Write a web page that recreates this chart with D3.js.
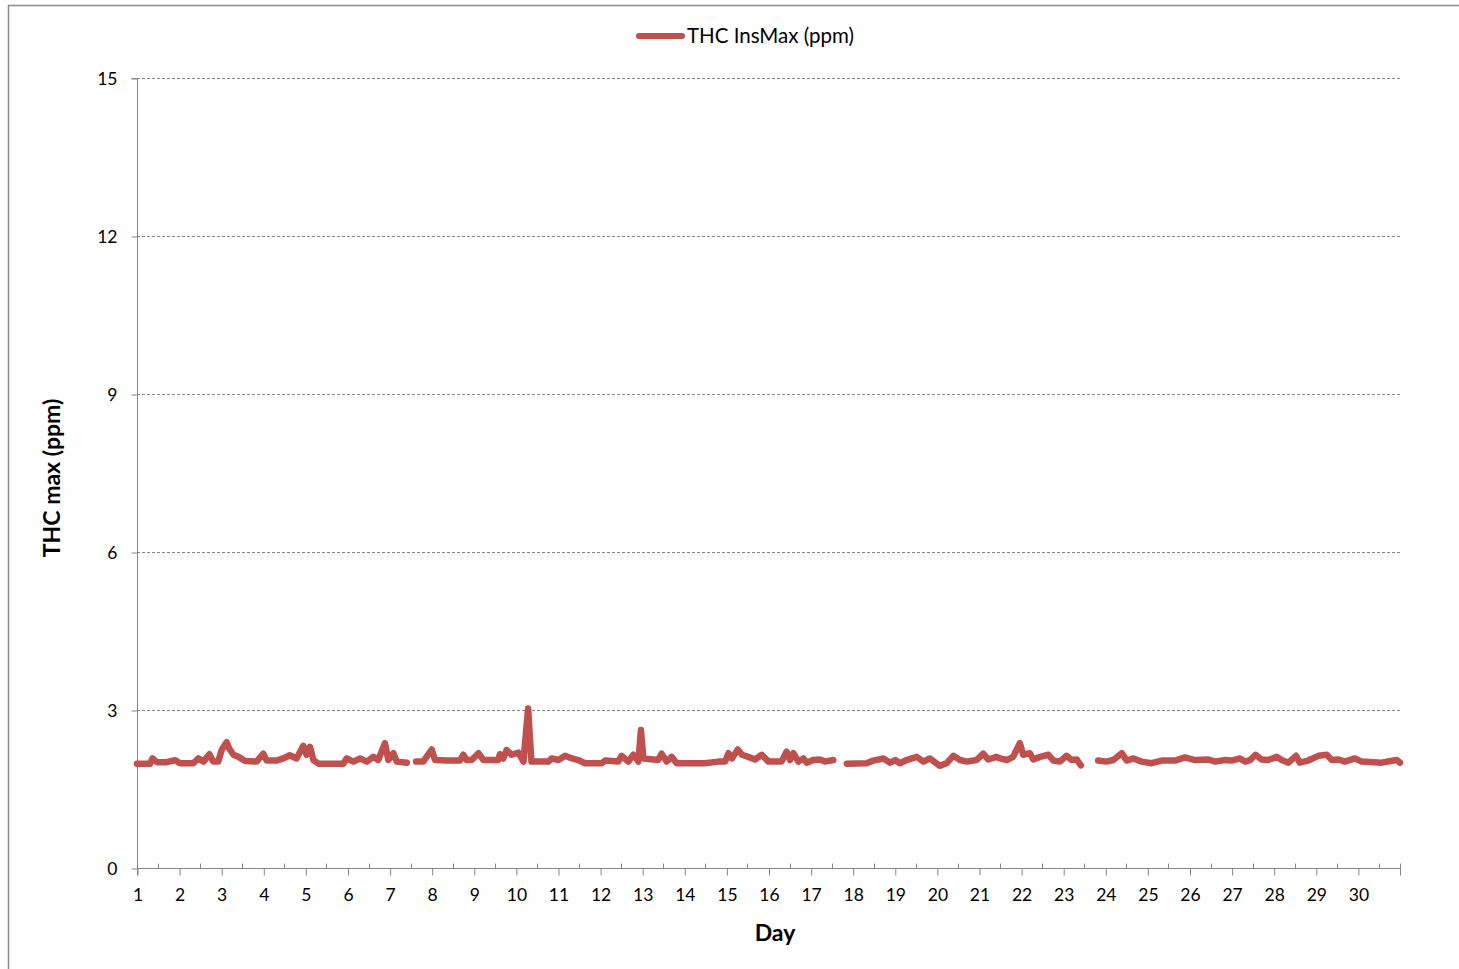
<!DOCTYPE html>
<html>
<head>
<meta charset="utf-8">
<script src="https://cdn.jsdelivr.net/npm/d3@7"></script>
<style>
  html, body { margin: 0; padding: 0; background: #fff; }
  svg { display: block; font-family: Lato, "Open Sans", sans-serif; }
</style>
</head>
<body>
<svg id="chart" width="1459" height="969"></svg>
<script>
// ---- Data ----
const seriesName = "THC InsMax (ppm)";
const xTicks = d3.range(1, 31);          // labels 1..30
const yTicks = [0, 3, 6, 9, 12, 15];
// day positions (fractional) and THC values; null = gap in record
const days = [
  1.00,1.15,1.31,1.37,1.47,1.71,1.90,2.02,2.34,2.46,2.58,2.72,2.81,2.93,3.01,3.13,3.19,3.29,3.41,3.57,
  3.84,4.00,4.08,4.32,4.47,4.63,4.79,4.95,5.03,5.11,5.19,5.31,5.90,5.98,6.14,6.30,6.46,6.61,6.73,6.89,
  6.97,7.09,7.17,7.41,7.52,7.63,7.80,8.00,8.08,8.36,8.67,8.75,8.83,8.95,9.11,9.23,9.58,9.62,9.70,9.78,
  9.90,10.06,10.18,10.29,10.37,10.77,10.85,11.01,11.17,11.33,11.48,11.64,12.04,12.12,12.43,12.51,12.67,12.79,12.91,12.97,
  13.03,13.38,13.46,13.58,13.70,13.82,14.49,14.81,14.97,15.05,15.13,15.27,15.37,15.52,15.68,15.84,16.00,16.31,16.43,16.51,
  16.59,16.71,16.83,16.91,17.06,17.22,17.34,17.54,17.70,17.86,18.33,18.49,18.73,18.89,19.01,19.12,19.28,19.52,19.68,19.83,
  20.07,20.23,20.39,20.55,20.71,20.94,21.10,21.22,21.42,21.50,21.66,21.81,21.97,22.05,22.21,22.29,22.45,22.65,22.77,22.92,
  23.08,23.20,23.32,23.42,23.62,23.83,24.03,24.19,24.39,24.51,24.67,24.86,25.10,25.34,25.66,25.89,26.13,26.45,26.61,26.84,
  27.00,27.20,27.32,27.44,27.57,27.71,27.87,28.07,28.19,28.35,28.53,28.62,28.82,29.06,29.26,29.38,29.54,29.69,29.93,30.09,
  30.56,30.92,31.00
];
const thc = [
  1.98,1.98,1.98,2.08,2.01,2.01,2.05,1.99,1.99,2.08,2.02,2.16,2.02,2.02,2.24,2.39,2.27,2.15,2.11,2.03,
  2.02,2.17,2.04,2.04,2.08,2.14,2.08,2.32,2.15,2.30,2.05,1.98,1.98,2.08,2.02,2.08,2.02,2.11,2.05,2.37,
  2.05,2.18,2.02,2.00,null,2.02,2.02,2.25,2.05,2.04,2.04,2.15,2.05,2.05,2.18,2.05,2.05,2.16,2.08,2.24,
  2.15,2.19,2.02,3.03,2.02,2.02,2.08,2.05,2.13,2.08,2.05,1.99,1.99,2.04,2.02,2.13,2.02,2.15,2.02,2.62,
  2.08,2.05,2.17,2.02,2.11,1.99,1.99,2.02,2.02,2.18,2.08,2.25,2.15,2.11,2.06,2.15,2.02,2.02,2.21,2.05,
  2.18,2.02,2.08,2.00,2.05,2.06,2.02,2.05,null,1.98,1.99,2.04,2.08,2.00,2.05,1.99,2.05,2.11,2.02,2.08,
  1.94,1.99,2.13,2.05,2.02,2.05,2.17,2.06,2.11,2.08,2.05,2.11,2.37,2.15,2.18,2.06,2.11,2.15,2.04,2.02,
  2.13,2.05,2.06,1.95,null,2.04,2.02,2.05,2.18,2.04,2.08,2.02,1.99,2.04,2.04,2.10,2.05,2.06,2.02,2.05,
  2.04,2.08,2.02,2.05,2.15,2.06,2.05,2.11,2.05,2.00,2.13,2.00,2.04,2.13,2.15,2.05,2.06,2.02,2.08,2.02,
  2.00,2.05,2.00
];

(function () {
// ---- Layout ----
const svg = d3.select("#chart");
const pLeft = 137, pRight = 1400, pTop = 78, pBottom = 868;
const x = d3.scaleLinear().domain([1, 31]).range([pLeft, pRight]);
const y = d3.scaleLinear().domain([0, 15]).range([pBottom, pTop]);
const grey = "#868686";

// outer frame (clipped by page edges)
svg.append("rect").attr("x", 8.5).attr("y", 5.5).attr("width", 1470).attr("height", 990)
  .attr("fill", "none").attr("stroke", "#8c8c8c").attr("stroke-width", 1.5);

// gridlines
svg.append("g").selectAll("line").data(yTicks.filter(d => d > 0)).join("line")
  .attr("x1", pLeft).attr("x2", pRight)
  .attr("y1", d => Math.round(y(d)) + 0.5).attr("y2", d => Math.round(y(d)) + 0.5)
  .attr("stroke", grey).attr("stroke-width", 1).attr("stroke-dasharray", "3,2");

// y axis
const yAxis = d3.axisLeft(y).tickValues(yTicks).tickSize(6).tickPadding(14);
const gy = svg.append("g").attr("transform", `translate(${pLeft + 0.5},0.5)`).call(yAxis);
gy.select(".domain").attr("stroke", grey).attr("d", `M-6,${pTop}H0V${pBottom + 7}`);
gy.selectAll(".tick line").attr("stroke", grey);
gy.selectAll(".tick text").attr("font-size", 17.5).attr("fill", "#000").attr("font-family", "Lato");

// x axis: major ticks outward at integer days, minor ticks inward at half days
const xAxis = d3.axisBottom(x).tickValues(xTicks).tickSize(7).tickPadding(13).tickFormat(d3.format("d"));
const gx = svg.append("g").attr("transform", `translate(0.5,${pBottom + 0.5})`).call(xAxis);
gx.select(".domain").attr("stroke", grey).attr("d", `M${pLeft},0H${pRight}`);
gx.selectAll(".tick line").attr("stroke", grey);
gx.selectAll(".tick text").attr("font-size", 17.5).attr("fill", "#000").attr("font-family", "Lato");
gx.append("g").selectAll("line").data(d3.range(1.5, 31, 1).concat([1, 31])).join("line")
  .attr("x1", d => Math.round(x(d))).attr("x2", d => Math.round(x(d)))
  .attr("y1", 0).attr("y2", -5).attr("stroke", grey);
gx.append("line").attr("x1", Math.round(x(31))).attr("x2", Math.round(x(31)))
  .attr("y1", 0).attr("y2", 7).attr("stroke", grey);

// series line
const pts = days.map((d, i) => ({ d, v: thc[i] }));
const line = d3.line().defined(p => p.v !== null).x(p => x(p.d)).y(p => y(p.v));
svg.append("path").datum(pts).attr("d", line)
  .attr("fill", "none").attr("stroke", "#C0504D").attr("stroke-width", 6.5)
  .attr("stroke-linejoin", "round").attr("stroke-linecap", "round");

// legend
svg.append("line").attr("x1", 639).attr("x2", 682).attr("y1", 36).attr("y2", 36)
  .attr("stroke", "#C0504D").attr("stroke-width", 6).attr("stroke-linecap", "round");
svg.append("text").attr("x", 687).attr("y", 43).attr("font-size", 20.5).attr("fill", "#000")
  .text(seriesName);

// axis titles
svg.append("text").attr("x", 775).attr("y", 941).attr("text-anchor", "middle")
  .attr("font-size", 23).attr("font-weight", "bold").text("Day");
svg.append("text").attr("transform", "translate(60,478) rotate(-90)").attr("text-anchor", "middle")
  .attr("font-size", 23).attr("font-weight", "bold").text("THC max (ppm)");
})();
</script>
</body>
</html>
